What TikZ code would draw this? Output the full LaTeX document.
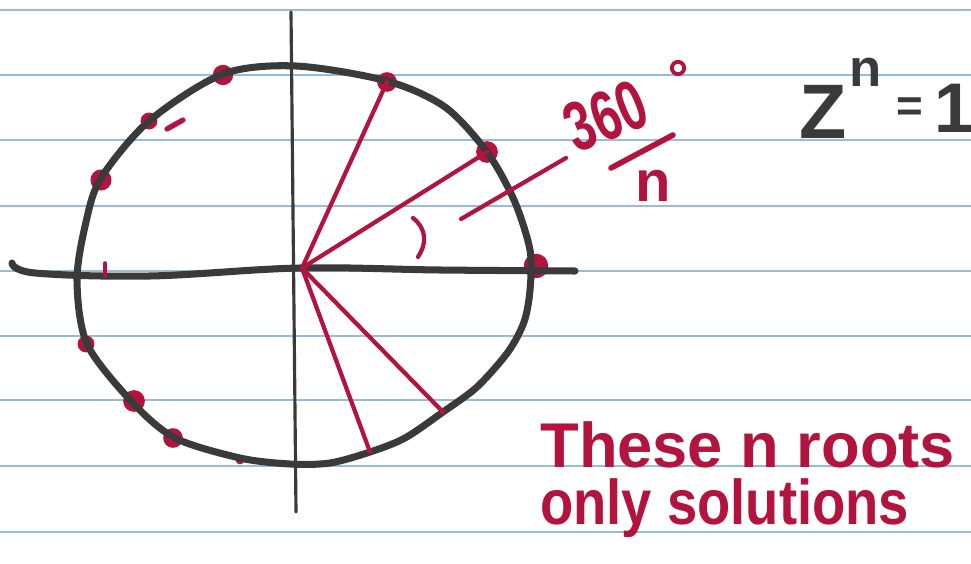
\documentclass[tikz,border=0pt]{standalone}
\usepackage{fontspec}
\setmainfont{Liberation Sans}
\usetikzlibrary{positioning}
\definecolor{inkred}{RGB}{178,20,62}
\definecolor{inkgray}{RGB}{58,58,58}
\definecolor{ruleblue}{RGB}{150,188,214}

\begin{document}
\begin{tikzpicture}[x=0.02cm,y=-0.02cm,
  rule/.style={ruleblue,line width=1pt},
  pen/.style={inkgray,line width=4pt,line cap=round,line join=round},
  redpen/.style={inkred,line width=2.4pt,line cap=round},
  scrawl/.style={inkred,font=\bfseries\fontsize{36}{40}\selectfont,inner sep=0pt},
  blackscrawl/.style={inkgray,font=\bfseries\fontsize{40}{44}\selectfont,inner sep=0pt}]
\useasboundingbox (0,0) rectangle (971,564);
\fill[white] (0,0) rectangle (971,564);
\foreach \y in {10,75,140,206,271,336,400,466,532}
  \draw[rule] (0,\y) -- (971,\y);
\coordinate (O) at (302,268);
\coordinate (r1) at (387,82);
\coordinate (r2) at (487,152);
\coordinate (r3) at (536,266);
\coordinate (s1) at (443,412);
\coordinate (s2) at (370,452);
\foreach \p/\r in {r1/5.6pt,r2/6.2pt,r3/7pt}
  \fill[inkred] (\p) circle (\r);
\foreach \x/\y/\r in {223/75/5.8pt,149/121/4.8pt,101/180/6pt,86/344/4.8pt,134/401/6.2pt,173/438/5.6pt,240/460/2.5pt}
  \fill[inkred] (\x,\y) circle (\r);
\draw[pen] plot[smooth cycle,tension=0.5] coordinates {(296,66) (387,81) (445,107) (487,152)
  (514,200) (530,250) (530,290) (524,322) (508,352) (477,387) (443,412) (405,438) (370,452)
  (330,463) (290,464) (240,458) (175,438) (132,402) (87,344) (77,280) (86,222) (101,178)
  (149,121) (223,74)};
\draw[pen] plot[smooth,tension=0.6] coordinates {(12,263) (35,273) (150,276) (300,268) (440,270) (575,271)};
\draw[inkgray,line width=1.8pt,line cap=round] (291,12) -- (296,512);
\foreach \p in {r1,r2,s1,s2}
  \draw[redpen] (O) -- (\p);
\draw[redpen] (413,218) .. controls (428,230) and (426,245) .. (418,257);
\coordinate (lead1) at (461,219);
\coordinate (lead2) at (566,158);
\draw[redpen] (lead1) -- (lead2);
\draw[redpen,line width=3pt] (167,129) -- (183,120);
\draw[redpen,line width=2pt] (105,263) -- (105,276);
\node[scrawl,rotate=22,xscale=0.7,font=\bfseries\fontsize{40}{44}\selectfont] (num) at (606,116) {360};
\draw[inkred,line width=2.2pt] (678,68) circle (3.5pt);
\draw[redpen,line width=3.2pt] (611,168) -- (673,135);
\node[scrawl,font=\bfseries\fontsize{33}{36}\selectfont] (den) at (653,186) {n};
\node[blackscrawl,font=\bfseries\fontsize{44}{48}\selectfont] (zed) at (823,112) {Z};
\node[blackscrawl,font=\bfseries\fontsize{30}{32}\selectfont] (pow) at (866,72) {n};
\node[blackscrawl,font=\bfseries\fontsize{26}{28}\selectfont] (eq) at (910,110) {=};
\node[blackscrawl] (one) at (954,108) {1};
\node[scrawl,align=left,anchor=base west,font=\bfseries\fontsize{36}{32}\selectfont] (note) at (540,524)
  {These n roots\\\scalebox{0.86}[1]{only solutions}};
\end{tikzpicture}
\end{document}
